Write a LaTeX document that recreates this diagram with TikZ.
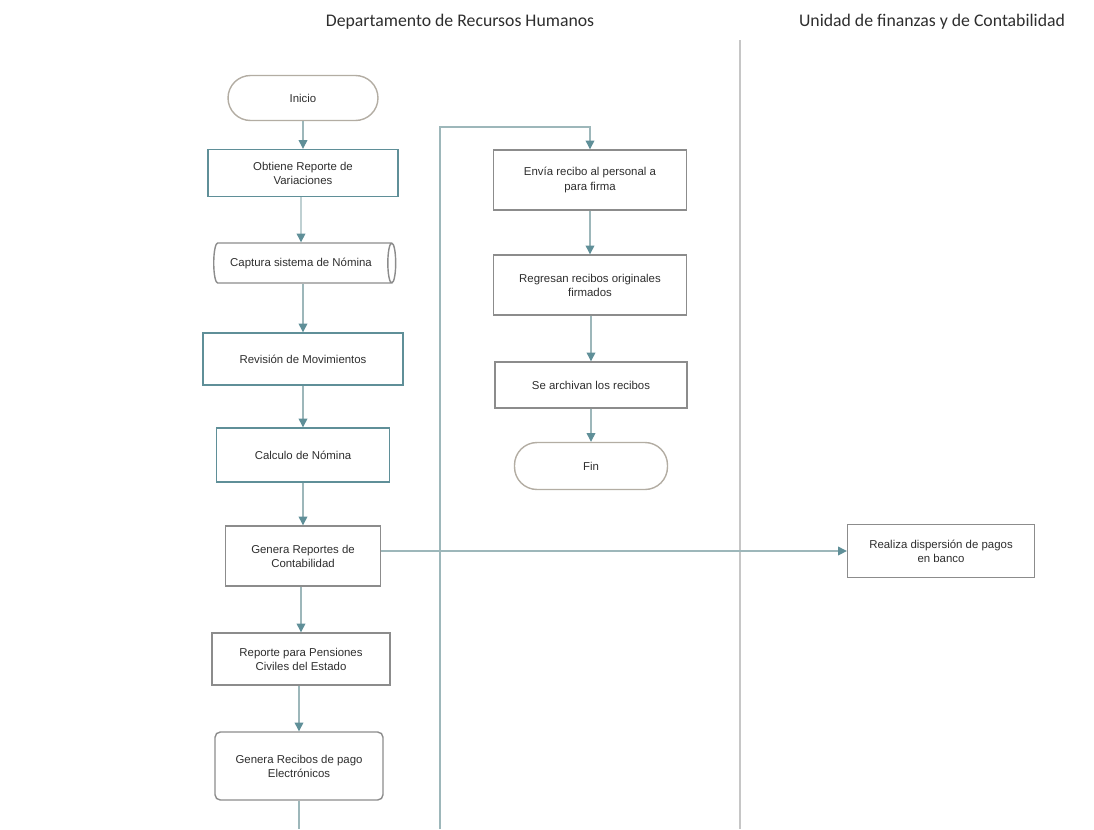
\documentclass[tikz,border=0pt]{standalone}
\usepackage{fontspec}
\setmainfont{Liberation Sans}
\newfontfamily\headfont{Carlito}
\usetikzlibrary{shapes.geometric,arrows.meta}
\definecolor{verdeazul}{HTML}{5F8F98}
\definecolor{linea}{HTML}{9DB7BA}
\definecolor{gris}{HTML}{8C8C8C}
\definecolor{borde}{HTML}{B3ADA3}
\definecolor{texto}{HTML}{2E2E2E}
\tikzset{
  paso/.style={draw=verdeazul, line width=0.8pt, rectangle, align=center,
    text=texto, font=\fontsize{6.5}{8}\selectfont},
  pasogris/.style={paso, draw=gris},
  terminal/.style={paso, draw=borde, rounded corners=0.45cm},
  flecha/.style={draw=linea, line width=0.7pt,
    -{Triangle[length=5pt,width=5pt,color=verdeazul]}},
  linea/.style={draw=linea, line width=0.7pt},
  titulo/.style={font=\headfont\fontsize{10.1}{12}\selectfont, text=texto}
}
\begin{document}
\begin{tikzpicture}[x=0.02cm,y=-0.02cm]
      \useasboundingbox (0,0) rectangle (1094,829);
      \node[titulo] (rh) at (460,22) {Departamento de Recursos Humanos};
      \node[titulo] (uf) at (932,22) {Unidad de finanzas y de Contabilidad};
      \draw[draw=gray!45, line width=0.6pt] (740,40) -- (740,829);

      \node[terminal, minimum width=3cm, minimum height=0.9cm] (inicio) at (303,98) {Inicio};
      \node[paso, minimum width=3.8cm, minimum height=0.94cm] (obtiene) at (303,173)
        {Obtiene Reporte de\\Variaciones};
      \node[paso, draw=gris, cylinder, shape aspect=0.35, minimum width=0.8cm,
        minimum height=3.64cm] (captura) at (301,263) {Captura sistema de Nómina};
      \node[paso, minimum width=4cm, minimum height=1.04cm] (revision) at (303,359)
        {Revisión de Movimientos};
      \node[paso, minimum width=3.46cm, minimum height=1.08cm] (calculo) at (303,455)
        {Calculo de Nómina};
      \node[pasogris, minimum width=3.1cm, minimum height=1.2cm] (genrep) at (303,556)
        {Genera Reportes de\\Contabilidad};
      \node[pasogris, minimum width=3.56cm, minimum height=1.04cm] (pensiones) at (301,659)
        {Reporte para Pensiones\\Civiles del Estado};
      \node[pasogris, rounded corners=3pt, minimum width=3.36cm, minimum height=1.36cm]
        (recibos) at (299,766) {Genera Recibos de pago\\Electrónicos};

      \node[pasogris, minimum width=3.86cm, minimum height=1.2cm] (envia) at (590,180)
        {Envía recibo al personal a\\para firma};
      \node[pasogris, minimum width=3.86cm, minimum height=1.2cm] (regresan) at (590,285)
        {Regresan recibos originales\\firmados};
      \node[pasogris, minimum width=3.84cm, minimum height=0.92cm] (archivan) at (591,385)
        {Se archivan los recibos};
      \node[terminal, minimum width=3.06cm, minimum height=0.94cm] (fin) at (591,466) {Fin};

      \node[pasogris, minimum width=3.74cm, minimum height=1.06cm] (realiza) at (941,551)
        {Realiza dispersión de pagos\\en banco};

      \coordinate (baja) at (299,829);
      \coordinate (sube) at (440,829);
      \coordinate (codo) at (440,127);
      \begin{scope}[flecha]
        \draw (inicio) to (obtiene);
        \draw (obtiene.south -| captura) to (captura);
        \draw (captura.south -| revision) to (revision);
        \draw (revision) to (calculo);
        \draw (calculo) to (genrep);
        \draw (genrep.south -| pensiones) to (pensiones);
        \draw (pensiones.south -| recibos) to (recibos);
        \draw (genrep.east |- realiza.west) to (realiza.west);
        \draw (sube) -- (codo) -| (envia.north);
        \draw (envia) to (regresan);
        \draw (regresan.south -| archivan) to (archivan);
        \draw (archivan) to (fin);
      \end{scope}
      \draw[linea] (recibos) -- (baja);
    \end{tikzpicture}
\end{document}
